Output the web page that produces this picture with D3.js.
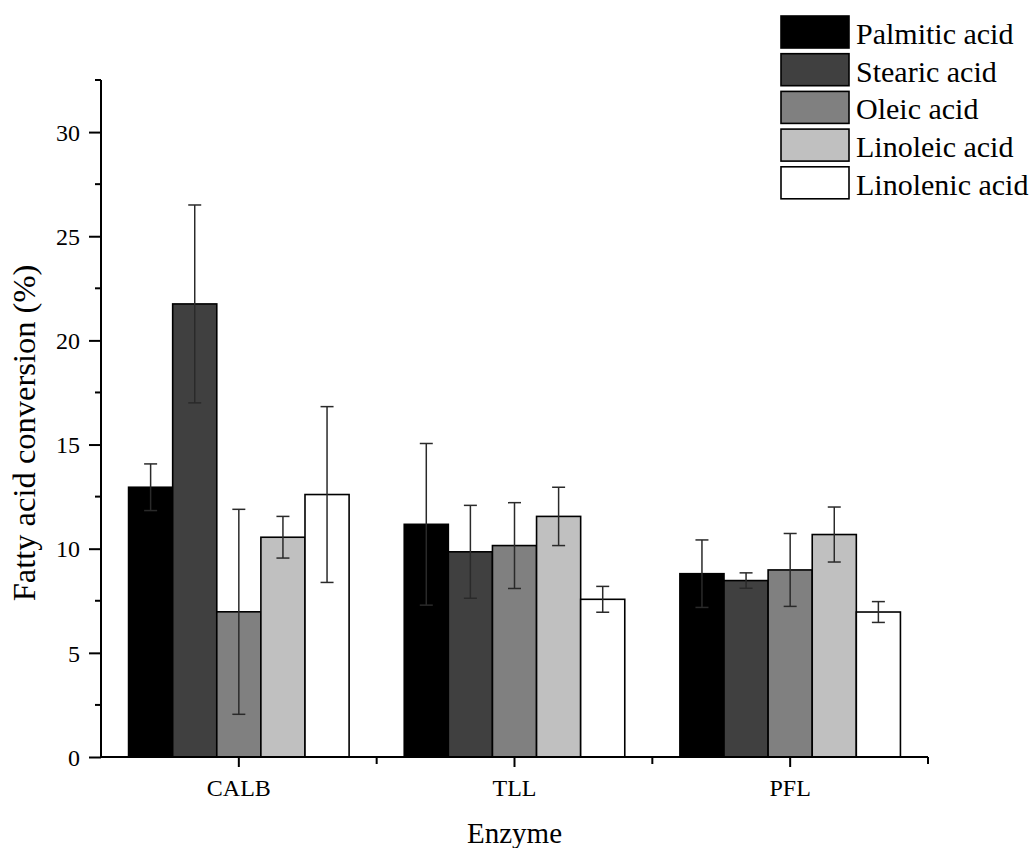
<!DOCTYPE html>
<html>
<head>
<meta charset="utf-8">
<script src="https://cdn.jsdelivr.net/npm/d3@7"></script>
<style>
  body { margin: 0; background: #fff; }
  text { font-family: "Liberation Serif", "Times New Roman", serif; fill: #000; }
</style>
</head>
<body>
<div id="chart"></div>
<script>
var width = 1030, height = 848;

// data
var enzymes = ["CALB", "TLL", "PFL"];
var acids = ["Palmitic acid", "Stearic acid", "Oleic acid", "Linoleic acid", "Linolenic acid"];
var fills = ["#000000", "#404040", "#808080", "#c0c0c0", "#ffffff"];
var calbVals = [12.95, 21.75, 6.97, 10.55, 12.6];
var calbErr  = [1.12, 4.75, 4.92, 1.0, 4.22];
var tllVals  = [11.17, 9.85, 10.15, 11.55, 7.57];
var tllErr   = [3.88, 2.23, 2.06, 1.4, 0.62];
var pflVals  = [8.8, 8.47, 8.98, 10.68, 6.96];
var pflErr   = [1.62, 0.37, 1.75, 1.32, 0.5];
var yTicks = [0, 5, 10, 15, 20, 25, 30];
var yMinor = [2.5, 7.5, 12.5, 17.5, 22.5, 27.5, 32.5];

var values = [calbVals, tllVals, pflVals];
var errors = [calbErr, tllErr, pflErr];

var rows = [];
enzymes.forEach(function(e, i){
  acids.forEach(function(a, j){
    rows.push({enzyme: e, acid: a, value: values[i][j], err: errors[i][j], fill: fills[j]});
  });
});

var svg = d3.select("#chart").append("svg")
  .attr("width", width)
  .attr("height", height);

var plotLeft = 101, plotRight = 928, plotTop = 80, plotBottom = 757;

var x0 = d3.scaleBand().domain(enzymes).range([plotLeft, plotRight]).padding(0);
var bw = x0.bandwidth();
var x1 = d3.scaleBand().domain(acids).range([bw * 0.1, bw * 0.9]).padding(0);
var y = d3.scaleLinear().domain([0, 32.5]).range([plotBottom, plotTop]);

// bars
svg.append("g").selectAll("rect")
  .data(rows)
  .enter().append("rect")
  .attr("x", d => x0(d.enzyme) + x1(d.acid))
  .attr("y", d => y(d.value))
  .attr("width", x1.bandwidth())
  .attr("height", d => y(0) - y(d.value))
  .attr("fill", d => d.fill)
  .attr("stroke", "#000")
  .attr("stroke-width", 1.6);

// error bars
var eb = svg.append("g").attr("stroke", "#2a2a2a").attr("stroke-width", 1.5);
rows.forEach(function(d){
  var cx = x0(d.enzyme) + x1(d.acid) + x1.bandwidth() / 2;
  var capW = 6.5;
  eb.append("line").attr("x1", cx).attr("x2", cx).attr("y1", y(d.value + d.err)).attr("y2", y(d.value - d.err));
  eb.append("line").attr("x1", cx - capW).attr("x2", cx + capW).attr("y1", y(d.value + d.err)).attr("y2", y(d.value + d.err));
  eb.append("line").attr("x1", cx - capW).attr("x2", cx + capW).attr("y1", y(d.value - d.err)).attr("y2", y(d.value - d.err));
});

// y axis
var yAxis = d3.axisLeft(y).tickValues(yTicks).tickSize(12).tickPadding(9).tickFormat(d3.format("d"));
var gy = svg.append("g").attr("transform", "translate(" + plotLeft + ",0)").call(yAxis);
gy.select(".domain").attr("d", "M0," + (plotBottom + 1) + "V" + plotTop).attr("stroke-width", 2);
gy.selectAll(".tick line").attr("stroke-width", 2);
gy.selectAll(".tick text").style("font-family", "Liberation Serif").style("font-size", "24px").attr("dy", "0.34em");
gy.selectAll(".minor").data(yMinor).enter().append("line")
  .attr("class", "minor")
  .attr("x1", -6).attr("x2", 0)
  .attr("y1", d => y(d)).attr("y2", d => y(d))
  .attr("stroke", "#000").attr("stroke-width", 2);

// x axis
var xAxis = d3.axisBottom(x0).tickSize(10).tickPadding(12);
var gx = svg.append("g").attr("transform", "translate(0," + plotBottom + ")").call(xAxis);
gx.select(".domain").attr("d", "M" + plotLeft + ",0H" + plotRight).attr("stroke-width", 2);
gx.selectAll(".tick line").attr("stroke-width", 2);
gx.selectAll(".tick text").style("font-family", "Liberation Serif").style("font-size", "24px");
gx.selectAll(".minor").data(enzymes.slice(1).concat(["end"])).enter().append("line")
  .attr("class", "minor")
  .attr("x1", d => d === "end" ? plotRight : x0(d))
  .attr("x2", d => d === "end" ? plotRight : x0(d))
  .attr("y1", 0).attr("y2", 7)
  .attr("stroke", "#000").attr("stroke-width", 2);

// axis titles
svg.append("text")
  .attr("transform", "translate(35,433) rotate(-90)")
  .attr("text-anchor", "middle")
  .style("font-size", "32.5px")
  .text("Fatty acid conversion (%)");

svg.append("text")
  .attr("x", (plotLeft + plotRight) / 2)
  .attr("y", 843)
  .attr("text-anchor", "middle")
  .style("font-size", "29px")
  .text("Enzyme");

// legend
var legend = svg.append("g").attr("transform", "translate(781,16)");
var lg = legend.selectAll("g").data(acids).enter().append("g")
  .attr("transform", (d, i) => "translate(0," + (i * 37.7) + ")");
lg.append("rect")
  .attr("width", 68).attr("height", 32)
  .attr("fill", (d, i) => fills[i])
  .attr("stroke", "#000").attr("stroke-width", 1.6);
lg.append("text")
  .attr("x", 75).attr("y", 28)
  .style("font-size", "30px")
  .text(d => d);
</script>
</body>
</html>
